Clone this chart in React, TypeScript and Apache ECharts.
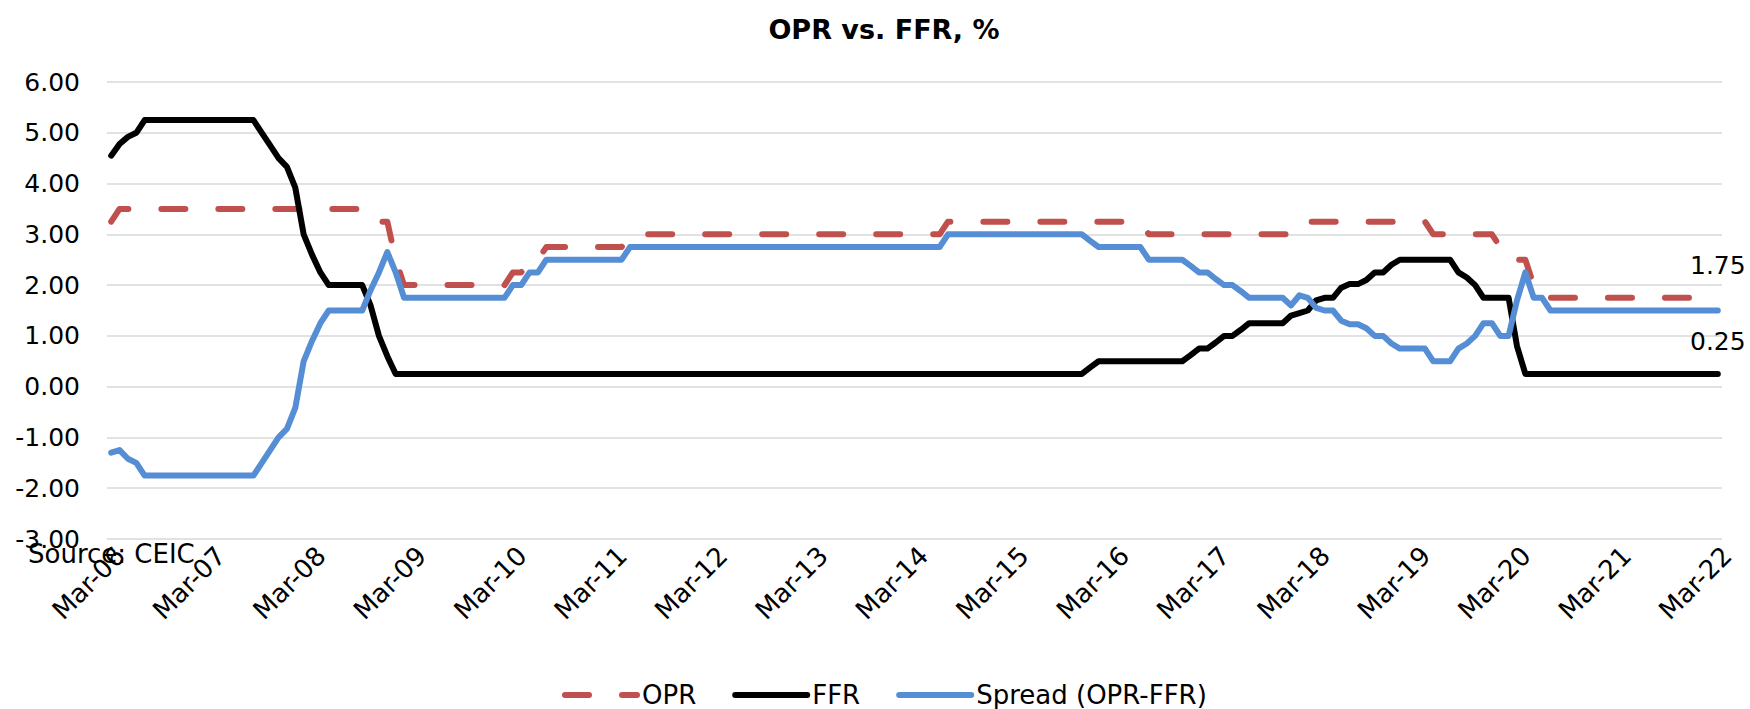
import React, { useEffect, useRef } from "react";
import * as echarts from "echarts";

const MONTHS = ["Jan", "Feb", "Mar", "Apr", "May", "Jun", "Jul", "Aug", "Sep", "Oct", "Nov", "Dec"];
const START_YEAR = 2006;
const END_YEAR = 2022;

// Monthly category labels, Mar-06 .. Mar-22
const categories: string[] = [];
for (let y = START_YEAR; y <= END_YEAR; y++) {
  for (let m = 0; m < 12; m++) {
    if (y === START_YEAR && m < 2) continue;
    if (y === END_YEAR && m > 2) break;
    categories.push(`${MONTHS[m]}-${String(y % 100).padStart(2, "0")}`);
  }
}

const seriesNames = ["OPR", "FFR", "Spread (OPR-FFR)"];

// OPR, % (rows of 12 months starting in March)
const opr = [
  3.25, 3.5, 3.5, 3.5, 3.5, 3.5, 3.5, 3.5, 3.5, 3.5, 3.5, 3.5,
  3.5, 3.5, 3.5, 3.5, 3.5, 3.5, 3.5, 3.5, 3.5, 3.5, 3.5, 3.5,
  3.5, 3.5, 3.5, 3.5, 3.5, 3.5, 3.5, 3.5, 3.25, 3.25, 2.5, 2.0,
  2.0, 2.0, 2.0, 2.0, 2.0, 2.0, 2.0, 2.0, 2.0, 2.0, 2.0, 2.0,
  2.25, 2.25, 2.5, 2.5, 2.75, 2.75, 2.75, 2.75, 2.75, 2.75, 2.75, 2.75,
  2.75, 2.75, 3.0, 3.0, 3.0, 3.0, 3.0, 3.0, 3.0, 3.0, 3.0, 3.0,
  3.0, 3.0, 3.0, 3.0, 3.0, 3.0, 3.0, 3.0, 3.0, 3.0, 3.0, 3.0,
  3.0, 3.0, 3.0, 3.0, 3.0, 3.0, 3.0, 3.0, 3.0, 3.0, 3.0, 3.0,
  3.0, 3.0, 3.0, 3.0, 3.25, 3.25, 3.25, 3.25, 3.25, 3.25, 3.25, 3.25,
  3.25, 3.25, 3.25, 3.25, 3.25, 3.25, 3.25, 3.25, 3.25, 3.25, 3.25, 3.25,
  3.25, 3.25, 3.25, 3.25, 3.0, 3.0, 3.0, 3.0, 3.0, 3.0, 3.0, 3.0,
  3.0, 3.0, 3.0, 3.0, 3.0, 3.0, 3.0, 3.0, 3.0, 3.0, 3.25, 3.25,
  3.25, 3.25, 3.25, 3.25, 3.25, 3.25, 3.25, 3.25, 3.25, 3.25, 3.25, 3.25,
  3.25, 3.25, 3.0, 3.0, 3.0, 3.0, 3.0, 3.0, 3.0, 3.0, 2.75, 2.75,
  2.5, 2.5, 2.0, 2.0, 1.75, 1.75, 1.75, 1.75, 1.75, 1.75, 1.75, 1.75,
  1.75, 1.75, 1.75, 1.75, 1.75, 1.75, 1.75, 1.75, 1.75, 1.75, 1.75, 1.75,
  1.75,
];

// FFR, %
const ffr = [
  4.55, 4.78, 4.92, 5.0, 5.25, 5.25, 5.25, 5.25, 5.25, 5.25, 5.25, 5.25,
  5.25, 5.25, 5.25, 5.25, 5.25, 5.25, 5.0, 4.75, 4.5, 4.33, 3.92, 3.0,
  2.6, 2.25, 2.0, 2.0, 2.0, 2.0, 2.0, 1.6, 1.0, 0.6, 0.25, 0.25,
  0.25, 0.25, 0.25, 0.25, 0.25, 0.25, 0.25, 0.25, 0.25, 0.25, 0.25, 0.25,
  0.25, 0.25, 0.25, 0.25, 0.25, 0.25, 0.25, 0.25, 0.25, 0.25, 0.25, 0.25,
  0.25, 0.25, 0.25, 0.25, 0.25, 0.25, 0.25, 0.25, 0.25, 0.25, 0.25, 0.25,
  0.25, 0.25, 0.25, 0.25, 0.25, 0.25, 0.25, 0.25, 0.25, 0.25, 0.25, 0.25,
  0.25, 0.25, 0.25, 0.25, 0.25, 0.25, 0.25, 0.25, 0.25, 0.25, 0.25, 0.25,
  0.25, 0.25, 0.25, 0.25, 0.25, 0.25, 0.25, 0.25, 0.25, 0.25, 0.25, 0.25,
  0.25, 0.25, 0.25, 0.25, 0.25, 0.25, 0.25, 0.25, 0.25, 0.38, 0.5, 0.5,
  0.5, 0.5, 0.5, 0.5, 0.5, 0.5, 0.5, 0.5, 0.5, 0.62, 0.75, 0.75,
  0.87, 1.0, 1.0, 1.12, 1.25, 1.25, 1.25, 1.25, 1.25, 1.4, 1.45, 1.5,
  1.7, 1.75, 1.75, 1.95, 2.02, 2.02, 2.1, 2.25, 2.25, 2.4, 2.5, 2.5,
  2.5, 2.5, 2.5, 2.5, 2.5, 2.25, 2.15, 2.0, 1.75, 1.75, 1.75, 1.75,
  0.8, 0.25, 0.25, 0.25, 0.25, 0.25, 0.25, 0.25, 0.25, 0.25, 0.25, 0.25,
  0.25, 0.25, 0.25, 0.25, 0.25, 0.25, 0.25, 0.25, 0.25, 0.25, 0.25, 0.25,
  0.25,
];

// Spread (OPR-FFR), %
const spread = [
  -1.3, -1.25, -1.42, -1.5, -1.75, -1.75, -1.75, -1.75, -1.75, -1.75, -1.75, -1.75,
  -1.75, -1.75, -1.75, -1.75, -1.75, -1.75, -1.5, -1.25, -1.0, -0.83, -0.42, 0.5,
  0.9, 1.25, 1.5, 1.5, 1.5, 1.5, 1.5, 1.9, 2.25, 2.65, 2.25, 1.75,
  1.75, 1.75, 1.75, 1.75, 1.75, 1.75, 1.75, 1.75, 1.75, 1.75, 1.75, 1.75,
  2.0, 2.0, 2.25, 2.25, 2.5, 2.5, 2.5, 2.5, 2.5, 2.5, 2.5, 2.5,
  2.5, 2.5, 2.75, 2.75, 2.75, 2.75, 2.75, 2.75, 2.75, 2.75, 2.75, 2.75,
  2.75, 2.75, 2.75, 2.75, 2.75, 2.75, 2.75, 2.75, 2.75, 2.75, 2.75, 2.75,
  2.75, 2.75, 2.75, 2.75, 2.75, 2.75, 2.75, 2.75, 2.75, 2.75, 2.75, 2.75,
  2.75, 2.75, 2.75, 2.75, 3.0, 3.0, 3.0, 3.0, 3.0, 3.0, 3.0, 3.0,
  3.0, 3.0, 3.0, 3.0, 3.0, 3.0, 3.0, 3.0, 3.0, 2.87, 2.75, 2.75,
  2.75, 2.75, 2.75, 2.75, 2.5, 2.5, 2.5, 2.5, 2.5, 2.38, 2.25, 2.25,
  2.12, 2.0, 2.0, 1.88, 1.75, 1.75, 1.75, 1.75, 1.75, 1.6, 1.8, 1.75,
  1.55, 1.5, 1.5, 1.3, 1.23, 1.23, 1.15, 1.0, 1.0, 0.85, 0.75, 0.75,
  0.75, 0.75, 0.5, 0.5, 0.5, 0.75, 0.85, 1.0, 1.25, 1.25, 1.0, 1.0,
  1.7, 2.25, 1.75, 1.75, 1.5, 1.5, 1.5, 1.5, 1.5, 1.5, 1.5, 1.5,
  1.5, 1.5, 1.5, 1.5, 1.5, 1.5, 1.5, 1.5, 1.5, 1.5, 1.5, 1.5,
  1.5,
];

const Y_MIN = -3;
const Y_MAX = 6;
const Y_STEP = 1;

const FONT = '"DejaVu Sans", sans-serif';
const RED = "#C0504D";
const BLUE = "#558ED5";
const BLACK = "#000000";
const LINE_W = 6;

export default function App() {
  const ref = useRef<HTMLDivElement>(null);

  useEffect(() => {
    if (!ref.current) return;
    const chart = echarts.init(ref.current, undefined, { renderer: "svg" });
    const last = categories.length - 1;

    const endMark = (values: number[], color: string) => ({
      symbol: "circle",
      symbolSize: 2,
      itemStyle: { color: "rgba(0,0,0,0)" },
      label: {
        show: true,
        position: "top",
        distance: 19,
        formatter: (p: any) => Number(p.value).toFixed(2),
        fontFamily: FONT,
        fontSize: 25,
        color,
      },
      data: [{ coord: [categories[last], values[last]], value: values[last] }],
    });

    chart.setOption({
      animation: false,
      backgroundColor: "#ffffff",
      textStyle: { fontFamily: FONT },
      grid: { left: 107, right: 28, top: 82, bottom: 170, containLabel: false },
      legend: {
        left: 557,
        top: 677,
        itemWidth: 72,
        itemHeight: 14,
        itemGap: 36,
        selectedMode: false,
        itemStyle: { opacity: 0 },
        lineStyle: { width: LINE_W, cap: "round" },
        textStyle: { fontFamily: FONT, fontSize: 26, color: "#000" },
        data: seriesNames,
      },
      graphic: [
        {
          type: "text",
          x: 884,
          y: 29,
          style: {
            text: "OPR vs. FFR, %",
            align: "center",
            verticalAlign: "middle",
            fontFamily: FONT,
            fontSize: 27,
            fontWeight: "bold",
            fill: "#000",
          },
        },
        {
          type: "text",
          x: 28,
          y: 554,
          z: 10,
          style: {
            text: "Source: CEIC",
            align: "left",
            verticalAlign: "middle",
            fontFamily: FONT,
            fontSize: 26,
            fill: "#000",
          },
        },
      ],
      xAxis: {
        type: "category",
        data: categories,
        boundaryGap: true,
        axisLine: { show: false },
        axisTick: { show: false },
        splitLine: { show: false },
        axisLabel: {
          interval: 11,
          rotate: 45,
          align: "right",
          verticalAlign: "top",
          margin: 3,
          fontFamily: FONT,
          fontSize: 26,
          color: "#000",
        },
      },
      yAxis: {
        type: "value",
        min: Y_MIN,
        max: Y_MAX,
        interval: Y_STEP,
        axisLine: { show: false },
        axisTick: { show: false },
        axisLabel: {
          margin: 27,
          fontFamily: FONT,
          fontSize: 25,
          color: "#000",
          formatter: (v: number) => v.toFixed(2),
        },
        splitLine: { lineStyle: { color: "#D9D9D9", width: 1.5 } },
      },
      series: [
        {
          name: seriesNames[0],
          type: "line",
          data: opr,
          showSymbol: false,
          symbol: "none",
          lineStyle: { color: RED, width: LINE_W, type: [24, 33], cap: "round", join: "round" },
          itemStyle: { color: RED },
          markPoint: endMark(opr, "#000"),
          z: 2,
        },
        {
          name: seriesNames[1],
          type: "line",
          data: ffr,
          showSymbol: false,
          symbol: "none",
          lineStyle: { color: BLACK, width: LINE_W, cap: "round", join: "round" },
          itemStyle: { color: BLACK },
          markPoint: endMark(ffr, "#000"),
          z: 3,
        },
        {
          name: seriesNames[2],
          type: "line",
          data: spread,
          showSymbol: false,
          symbol: "none",
          lineStyle: { color: BLUE, width: LINE_W, cap: "round", join: "round" },
          itemStyle: { color: BLUE },
          z: 4,
        },
      ],
    });

    return () => chart.dispose();
  }, []);

  return (
    <div
      ref={ref}
      style={{ position: "fixed", left: 0, top: 0, width: 1750, height: 709, background: "#fff" }}
    />
  );
}
